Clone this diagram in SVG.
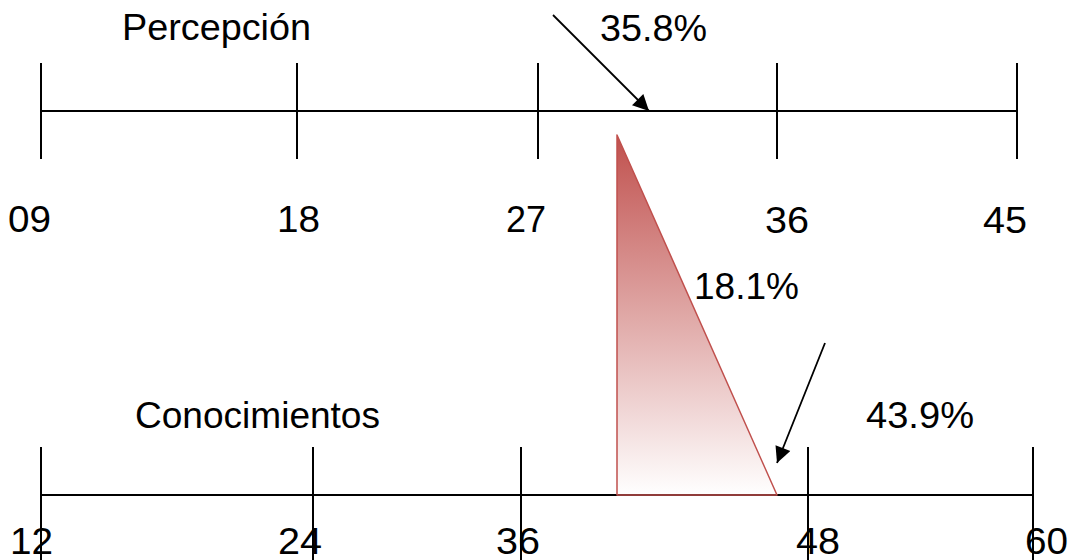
<svg xmlns="http://www.w3.org/2000/svg" width="1073" height="560" viewBox="0 0 1073 560">
<style>
.ax{stroke:#000;stroke-width:2;fill:none}
.arr{stroke:#000;stroke-width:1.8;fill:none;marker-end:url(#ah)}
text{font-family:"Liberation Sans",Arial,sans-serif;font-size:36px;fill:#000}
</style>
<defs>
<marker id="ah" viewBox="0 0 10 10" refX="10" refY="5" markerWidth="20" markerHeight="16" orient="auto" markerUnits="userSpaceOnUse"><path d="M0,0 L10,5 L0,10 z" fill="#000"/></marker>
<linearGradient id="g" x1="0" y1="0" x2="0" y2="1">
<stop offset="0" stop-color="#C0504D"/>
<stop offset="1" stop-color="#C0504D" stop-opacity="0"/>
</linearGradient>
</defs>
<g id="percepcion">
<path class="ax" d="M41,111 H1017 M41,63 V159 M297,63 V159 M538,63 V159 M777,63 V159 M1017,63 V159"/>
<text x="122" y="40" textLength="189" lengthAdjust="spacingAndGlyphs">Percepción</text>
<text x="8" y="232" textLength="43" lengthAdjust="spacingAndGlyphs">09</text>
<text x="277" y="232" textLength="43" lengthAdjust="spacingAndGlyphs">18</text>
<text x="506" y="232" textLength="40" lengthAdjust="spacingAndGlyphs">27</text>
<text x="765" y="233" textLength="44" lengthAdjust="spacingAndGlyphs">36</text>
<text x="983" y="233" textLength="44" lengthAdjust="spacingAndGlyphs">45</text>
</g>
<g id="conocimientos">
<path class="ax" d="M41,495 H1033 M41,447 V560 M313,447 V560 M521,447 V560 M808,447 V560 M1033,447 V560"/>
<text x="135" y="428" textLength="245" lengthAdjust="spacingAndGlyphs">Conocimientos</text>
<text x="10" y="554" textLength="43" lengthAdjust="spacingAndGlyphs">12</text>
<text x="278" y="554" textLength="44" lengthAdjust="spacingAndGlyphs">24</text>
<text x="496" y="554" textLength="44" lengthAdjust="spacingAndGlyphs">36</text>
<text x="796" y="554" textLength="44" lengthAdjust="spacingAndGlyphs">48</text>
<text x="1025" y="554" textLength="43" lengthAdjust="spacingAndGlyphs">60</text>
</g>
<g id="triangle">
<path d="M617,135 L617,495 L777,495 Z" fill="url(#g)" stroke="#C0504D" stroke-width="1.5" stroke-linejoin="round"/>
</g>
<g id="labels">
<text x="600" y="41" textLength="107" lengthAdjust="spacingAndGlyphs">35.8%</text>
<text x="694" y="299" textLength="105" lengthAdjust="spacingAndGlyphs">18.1%</text>
<text x="866" y="428" textLength="108" lengthAdjust="spacingAndGlyphs">43.9%</text>
</g>
<g id="connectors">
<line class="arr" x1="553" y1="15" x2="649" y2="111"/>
<line class="arr" x1="825" y1="343" x2="777" y2="463"/>
</g>
</svg>
